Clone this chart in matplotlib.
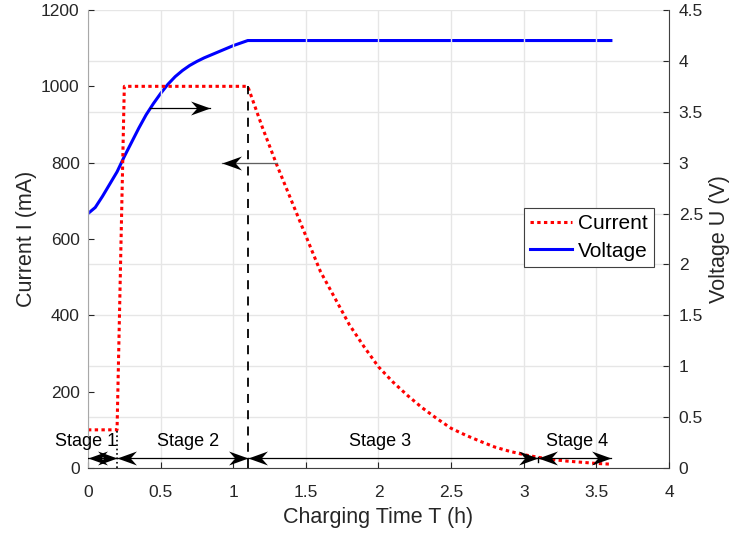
import numpy as np
import matplotlib
matplotlib.use("Agg")
import matplotlib.pyplot as plt
from matplotlib.path import Path

plt.rcParams['font.family'] = ['Liberation Sans', 'DejaVu Sans']

# ---- data ----
t_current = [0, 0.2, 0.25, 1.1, 1.2, 1.3, 1.4, 1.5, 1.6, 1.7, 1.8, 1.9, 2.0, 2.1, 2.2, 2.3, 2.4,
             2.5, 2.6, 2.7, 2.8, 2.9, 3.0, 3.1, 3.2, 3.3, 3.4, 3.5, 3.6]
current_mA = [100, 100, 1000, 1000, 893, 794, 701, 608, 515, 445, 375, 318, 265, 225, 190, 158, 130,
              104, 86, 70, 55, 44, 35, 28, 22, 18, 15, 12, 10]

t_voltage = [0, 0.05, 0.1, 0.15, 0.2, 0.25, 0.3, 0.35, 0.4, 0.45, 0.5, 0.55, 0.6, 0.65, 0.7,
             0.75, 0.8, 0.85, 0.9, 0.95, 1.0, 1.05, 1.1, 3.6]
voltage_V = [2.5, 2.56, 2.67, 2.79, 2.91, 3.06, 3.20, 3.34, 3.47, 3.58, 3.68, 3.77, 3.845, 3.905, 3.955,
             3.995, 4.03, 4.06, 4.09, 4.12, 4.15, 4.175, 4.2, 4.2]

stage_names = ["Stage 1", "Stage 2", "Stage 3", "Stage 4"]
stage_bounds = [0, 0.2, 1.1, 3.1, 3.6]
stage_text_x = [-0.01, 0.69, 2.01, 3.37]

x_ticks = [0, 0.5, 1, 1.5, 2, 2.5, 3, 3.5, 4]
left_ticks = [0, 200, 400, 600, 800, 1000, 1200]
right_ticks = [0, 0.5, 1, 1.5, 2, 2.5, 3, 3.5, 4, 4.5]

TXT = '#262626'

fig = plt.figure(figsize=(7.35, 5.33), dpi=100)
ax = fig.add_axes([88/735, 65/533, (669-88)/735, (468-10)/533])
ax2 = ax.twinx()

# grid on right axis ticks
ax2.set_axisbelow(True)
ax.set_axisbelow(True)
ax2.grid(True, color='#e6e6e6', linewidth=1.0)
ax.xaxis.grid(True, color='#e6e6e6', linewidth=1.0)

ax.set_zorder(ax2.get_zorder() + 1)
ax.patch.set_visible(False)

lc, = ax.plot(t_current, current_mA, color='red', linestyle=(0, (1.1, 1.1)), linewidth=2.2, label='Current')
lv, = ax2.plot(t_voltage, voltage_V, color='blue', linewidth=2.2, label='Voltage')

ax.set_xlim(0, 4)
ax.set_ylim(0, 1200)
ax2.set_ylim(0, 4.5)
ax.set_xticks(x_ticks)
ax.set_xticklabels([f"{v:g}" for v in x_ticks])
ax.set_yticks(left_ticks)
ax2.set_yticks(right_ticks)
ax2.set_yticklabels([f"{v:g}" for v in right_ticks])

for a in (ax, ax2):
    a.tick_params(direction='in', labelsize=12.5, colors=TXT, length=4, width=0.8)
    a.spines['top'].set_visible(False)
ax.tick_params(axis='x', pad=12)
ax.tick_params(axis='y', pad=6)
ax2.tick_params(axis='y', pad=7)
ax.spines['left'].set_color('#a8a8a8')
ax.spines['bottom'].set_color('#404040')
ax2.spines['right'].set_color('#404040')
ax2.spines['left'].set_visible(False)
ax2.spines['bottom'].set_visible(False)
ax.spines['right'].set_visible(False)

ax.set_xlabel('Charging Time T (h)', fontsize=15.5, color=TXT, labelpad=5)
ax.set_ylabel('Current I (mA)', fontsize=15.5, color=TXT, labelpad=3)
ax2.set_ylabel('Voltage U (V)', fontsize=15.5, color=TXT, labelpad=4)

# arrowhead markers (concave, MATLAB 'vback2' style)
head_r = Path([(0, 0), (-1, 0.36), (-0.68, 0), (-1, -0.36), (0, 0)],
              [Path.MOVETO, Path.LINETO, Path.LINETO, Path.LINETO, Path.CLOSEPOLY])
head_l = Path([(0, 0), (1, 0.36), (0.68, 0), (1, -0.36), (0, 0)],
              [Path.MOVETO, Path.LINETO, Path.LINETO, Path.LINETO, Path.CLOSEPOLY])


def arrow(x0, x1, y, left=False, right=True, lw=0.9, color='black', ms=28):
    ax.plot([x0, x1], [y, y], color=color, linewidth=lw, zorder=5)
    if right:
        ax.plot([x1], [y], marker=head_r, markersize=ms, color='black', markeredgewidth=0, zorder=6)
    if left:
        ax.plot([x0], [y], marker=head_l, markersize=ms, color='black', markeredgewidth=0, zorder=6)


# axis-pointer arrows
arrow(0.43, 0.84, 943)
arrow(0.92, 1.30, 800, left=True, right=False, color='#606060')

# stage boundaries
ax.plot([0.2, 0.2], [0, 100], color='black', linestyle=':', linewidth=1.2, zorder=4)
ax.plot([1.1, 1.1], [0, 1000], color='black', linestyle=(0, (5, 4)), linewidth=1.3, zorder=4)
ax.plot([3.1, 3.1], [17, 28], color='black', linewidth=1.0, zorder=4)

y_stage = 26
for i in range(4):
    arrow(stage_bounds[i], stage_bounds[i + 1], y_stage, left=True, right=True)
    ax.text(stage_text_x[i], 58, stage_names[i], fontsize=13, color='black',
            ha='center', va='baseline', zorder=7)

leg = ax.legend(handles=[lc, lv], loc='upper left', bbox_to_anchor=((524 - 88)/581, (468 - 208)/458),
                fontsize=15, frameon=True, fancybox=False, framealpha=1,
                edgecolor='#404040', handlelength=2.0, handletextpad=0.3,
                borderpad=0.3, labelspacing=0.4, borderaxespad=0)
leg.get_frame().set_linewidth(0.8)
for txt in leg.get_texts():
    txt.set_color('black')

fig.savefig('out.png', dpi=100)
